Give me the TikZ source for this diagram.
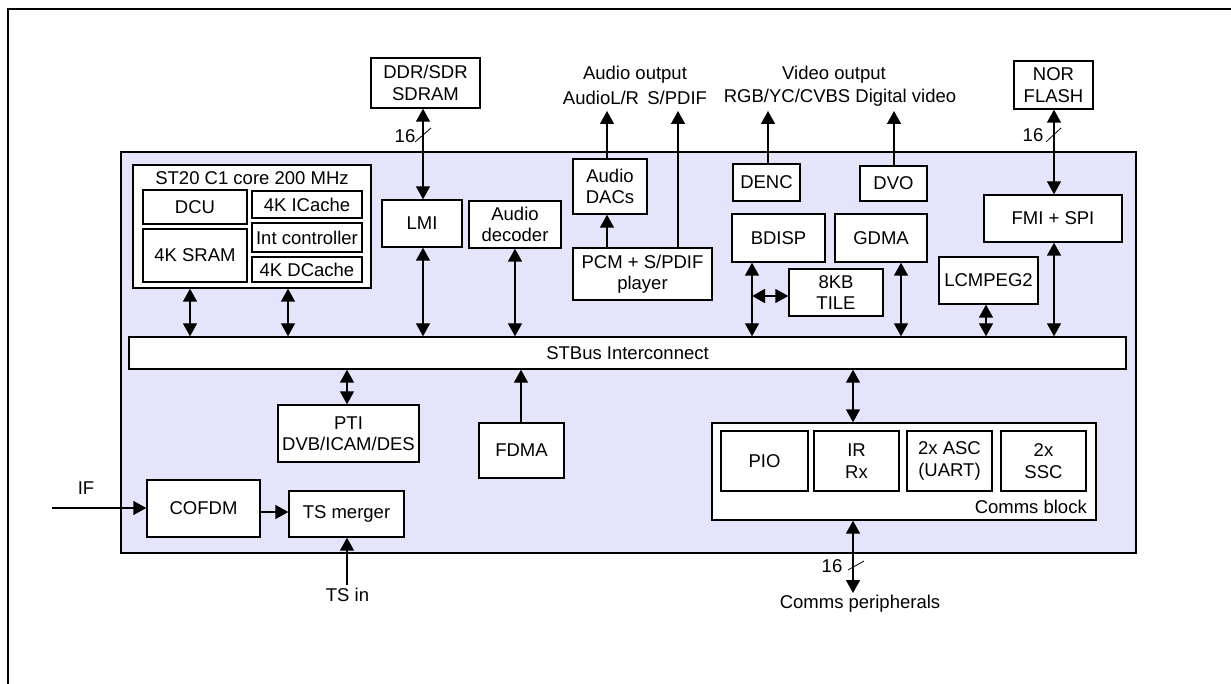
\documentclass[tikz,border=0pt]{standalone}
\usepackage{fontspec}
\setmainfont{Liberation Sans}
\usetikzlibrary{arrows.meta}
\definecolor{chipbg}{RGB}{228,228,251}
\begin{document}
\begin{tikzpicture}[x=1pt,y=-1pt,
  every node/.style={font=\fontsize{18.5}{21.5}\selectfont},
  blk/.style={draw, fill=white, line width=1.4pt, inner sep=0pt, align=center},
  lbl/.style={inner sep=0pt, align=center},
  arr/.style={line width=1.4pt, -{Triangle[length=13pt,width=14pt]}},
  darr/.style={line width=1.4pt, {Triangle[length=13pt,width=14pt]}-{Triangle[length=13pt,width=14pt]}},
  slash/.style={line width=0.8pt}]
\useasboundingbox (0,0) rectangle (1231,684);
% outer frame
\draw[line width=1.4pt] (8,690) -- (8,9) -- (1240,9);
% chip
\node[draw, fill=chipbg, line width=1.4pt, inner sep=0pt, minimum width=1015pt, minimum height=401pt] (chip) at (628.5,352.5) {};
% ST20 group
\node[blk, minimum width=238pt, minimum height=123pt] (st20) at (252,226.5) {};
\node[lbl] (st20t) at (252,178) {ST20 C1 core 200 MHz};
\node[blk, minimum width=104pt, minimum height=34pt] (dcu) at (195,207) {DCU};
\node[blk, minimum width=104pt, minimum height=53pt] (sram) at (195,255.5) {4K SRAM};
\node[blk, minimum width=110pt, minimum height=27pt] (icache) at (307,204.5) {4K ICache};
\node[blk, minimum width=110pt, minimum height=29pt] (intc) at (307,237.5) {Int controller};
\node[blk, minimum width=110pt, minimum height=25pt] (dcache) at (307,269.5) {4K DCache};
% upper blocks
\node[blk, minimum width=109pt, minimum height=50pt] (ddr) at (425.5,83) {DDR/SDR\\SDRAM};
\node[blk, minimum width=80pt, minimum height=47pt] (lmi) at (422,223.5) {LMI};
\node[blk, minimum width=92pt, minimum height=47pt] (adec) at (515,224.5) {Audio\\decoder};
\node[blk, minimum width=74pt, minimum height=55pt] (dacs) at (610,186.5) {Audio\\DACs};
\node[blk, minimum width=139pt, minimum height=52pt] (pcm) at (642.5,274) {PCM + S/PDIF\\player};
\node[blk, minimum width=67pt, minimum height=37pt] (denc) at (766.5,182.5) {DENC};
\node[blk, minimum width=67pt, minimum height=35pt] (dvo) at (893.5,183.5) {DVO};
\node[blk, minimum width=79pt, minimum height=48pt] (nor) at (1053.5,85) {NOR\\FLASH};
\node[blk, minimum width=138pt, minimum height=47pt] (fmi) at (1053,218.5) {FMI + SPI};
\node[blk, minimum width=93pt, minimum height=48pt] (bdisp) at (778.5,238) {BDISP};
\node[blk, minimum width=92pt, minimum height=48pt] (gdma) at (881,238) {GDMA};
\node[blk, minimum width=94pt, minimum height=47pt] (tile) at (836,292.5) {8KB\\TILE};
\node[blk, minimum width=99pt, minimum height=47pt] (lcmpeg) at (988.5,280.5) {LCMPEG2};
% bus
\node[blk, minimum width=997pt, minimum height=32pt] (bus) at (627.5,353) {STBus Interconnect};
% lower blocks
\node[blk, minimum width=141pt, minimum height=57pt] (pti) at (348.5,433.5) {PTI\\DVB/ICAM/DES};
\node[blk, minimum width=85pt, minimum height=55pt] (fdma) at (521.5,450.5) {FDMA};
\node[blk, minimum width=113pt, minimum height=57pt] (cofdm) at (203.5,508.5) {COFDM};
\node[blk, minimum width=115pt, minimum height=46pt] (tsm) at (346.5,514) {TS merger};
\node[blk, minimum width=384pt, minimum height=97pt] (comms) at (904,471.5) {};
\node[blk, minimum width=87pt, minimum height=60pt] (pio) at (764.5,461) {PIO};
\node[blk, minimum width=85pt, minimum height=60pt] (irrx) at (856.5,461) {IR\\Rx};
\node[blk, minimum width=85pt, minimum height=60pt] (asc) at (949.5,461) {2x ASC\\(UART)};
\node[blk, minimum width=85pt, minimum height=60pt] (ssc) at (1043.5,461) {2x\\SSC};
\node[lbl, anchor=east] (commsl) at (1087,507) {Comms block};
% external labels
\node[lbl] (aout) at (635,75) {Audio output};
\node[lbl] (aoutl) at (635,98) {AudioL/R\hspace{0.45em}S/PDIF};
\node[lbl] (vout) at (834,75) {Video output};
\node[lbl] (voutl) at (840,98) {RGB/YC/CVBS Digital video};
\node[lbl] (iflbl) at (86,488) {IF};
\node[lbl] (tsin) at (347.5,595) {TS in};
\node[lbl] (cperi) at (860,604) {Comms peripherals};
\node[lbl] (n16a) at (405,136) {16};
\node[lbl] (n16b) at (1033,135) {16};
\node[lbl] (n16c) at (832,566) {16};
% helper coordinates
\coordinate (top) at (0,111);
\coordinate (c1) at (190,0);
\coordinate (c2) at (288,0);
\coordinate (cda) at (607,0);
\coordinate (csp) at (678,0);
\coordinate (cdenc) at (768,0);
\coordinate (cdvo) at (894,0);
\coordinate (cmem) at (423,0);
\coordinate (cfl) at (1054,0);
\coordinate (cbd) at (752,0);
\coordinate (cgd) at (901,0);
\coordinate (clc) at (986,0);
\coordinate (cpti) at (347,0);
\coordinate (cfd) at (521,0);
\coordinate (ccm) at (853,0);
\coordinate (ifs) at (52,508);
\coordinate (tiley) at (0,296);
\coordinate (tsy) at (0,512);
\coordinate (tsb) at (0,585);
\coordinate (cpt) at (0,593);
% connectors
\draw[darr] (st20.south -| c1) -- (bus.north -| c1);
\draw[darr] (st20.south -| c2) -- (bus.north -| c2);
\draw[darr] (ddr.south -| cmem) -- (lmi.north -| cmem);
\draw[darr] (lmi.south -| cmem) -- (bus.north -| cmem);
\draw[darr] (adec.south) -- (bus.north -| adec.south);
\draw[arr] (pcm.north -| cda) -- (dacs.south -| cda);
\draw[arr] (dacs.north -| cda) -- (top -| cda);
\draw[arr] (pcm.north -| csp) -- (top -| csp);
\draw[arr] (denc.north -| cdenc) -- (top -| cdenc);
\draw[arr] (dvo.north -| cdvo) -- (top -| cdvo);
\draw[darr] (nor.south -| cfl) -- (fmi.north -| cfl);
\draw[darr] (fmi.south -| cfl) -- (bus.north -| cfl);
\draw[darr] (bdisp.south -| cbd) -- (bus.north -| cbd);
\draw[darr] (tiley -| cbd) -- (tiley -| tile.west);
\draw[darr] (gdma.south -| cgd) -- (bus.north -| cgd);
\draw[darr] (lcmpeg.south -| clc) -- (bus.north -| clc);
\draw[darr] (bus.south -| cpti) -- (pti.north -| cpti);
\draw[arr] (fdma.north -| cfd) -- (bus.south -| cfd);
\draw[darr] (bus.south -| ccm) -- (comms.north -| ccm);
\draw[darr] (comms.south -| ccm) -- (cpt -| ccm);
\draw[arr] (ifs) -- (ifs -| cofdm.west);
\draw[arr] (tsy -| cofdm.east) -- (tsy -| tsm.west);
\draw[arr] (tsb -| cpti) -- (tsm.south -| cpti);
% bus-width slashes
\draw[slash] (415,142) -- (431,128);
\draw[slash] (1046,142) -- (1061,128);
\draw[slash] (848,570) -- (864,561);
\end{tikzpicture}
\end{document}
